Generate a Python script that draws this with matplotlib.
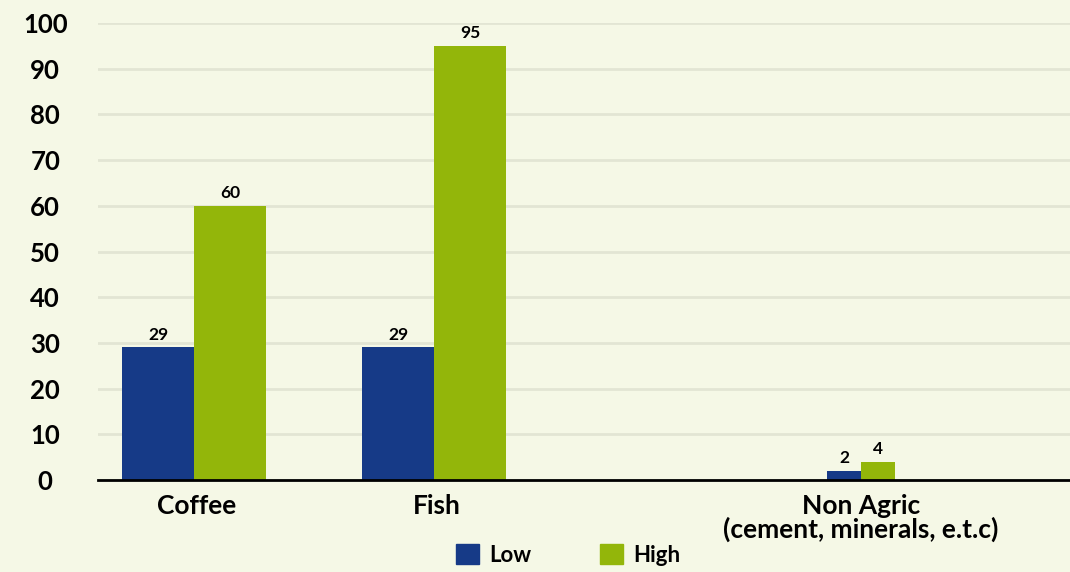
import matplotlib.pyplot as plt
from matplotlib.patches import Patch

plt.rcParams['font.family'] = ['Lato', 'DejaVu Sans']
plt.rcParams['font.weight'] = 'bold'

categories = ['Coffee', 'Fish', 'Non Agric\n(cement, minerals, e.t.c)']
low = [29, 29, 2]
high = [60, 95, 4]
series_names = ['Low', 'High']

BG = '#f5f8e6'
BLUE = '#163a87'
GREEN = '#93b60a'
W = 'bold'

# category centres and bar widths on a free x scale
centers = [96, 336, 763]
widths = [72, 72, 34]

fig = plt.figure(figsize=(10.7, 5.72), dpi=100, facecolor=BG)
ax = fig.add_axes([98 / 1070, 1 - 480 / 572, 1 - 98 / 1070, (480 - 23) / 572])
ax.set_facecolor(BG)

for c, w, lo, hi in zip(centers, widths, low, high):
    ax.bar(c - w / 2, lo, width=w, color=BLUE, zorder=3)
    ax.bar(c + w / 2, hi, width=w, color=GREEN, zorder=3)
    ax.text(c - w / 2, lo + 1, str(lo), ha='center', va='bottom', fontsize=12.5, fontweight=W, zorder=4)
    ax.text(c + w / 2, hi + 1, str(hi), ha='center', va='bottom', fontsize=12.5, fontweight=W, zorder=4)

ax.set_xlim(0, 972)
ax.set_ylim(0, 100)
ax.set_yticks(range(0, 101, 10))
ax.yaxis.grid(True, color='#e2e5d4', linewidth=2)
ax.set_axisbelow(True)

ax.set_xticks([c + 3 for c in centers[:2]] + [centers[2]])
ax.set_xticklabels(categories, fontsize=19, fontweight=W, linespacing=0.95)
ax.tick_params(axis='x', length=0, pad=10)
ax.tick_params(axis='y', length=0, labelsize=18.5)
for lbl in ax.get_yticklabels():
    lbl.set_horizontalalignment('center')
    lbl.set_fontweight(W)
ax.yaxis.set_tick_params(pad=68 - 30)

for side in ['top', 'right', 'left']:
    ax.spines[side].set_visible(False)
ax.spines['bottom'].set_linewidth(2)
ax.spines['bottom'].set_zorder(5)

handles = [Patch(color=BLUE), Patch(color=GREEN)]
fig.legend(handles, series_names, loc='lower center', bbox_to_anchor=(0.531, -8 / 572),
           ncol=2, frameon=False, handlelength=1.05, handleheight=1.05,
           columnspacing=3.1, handletextpad=0.45, borderpad=0.15, prop={'weight': W, 'size': 16})

fig.savefig('out.png', dpi=100, facecolor=BG)
